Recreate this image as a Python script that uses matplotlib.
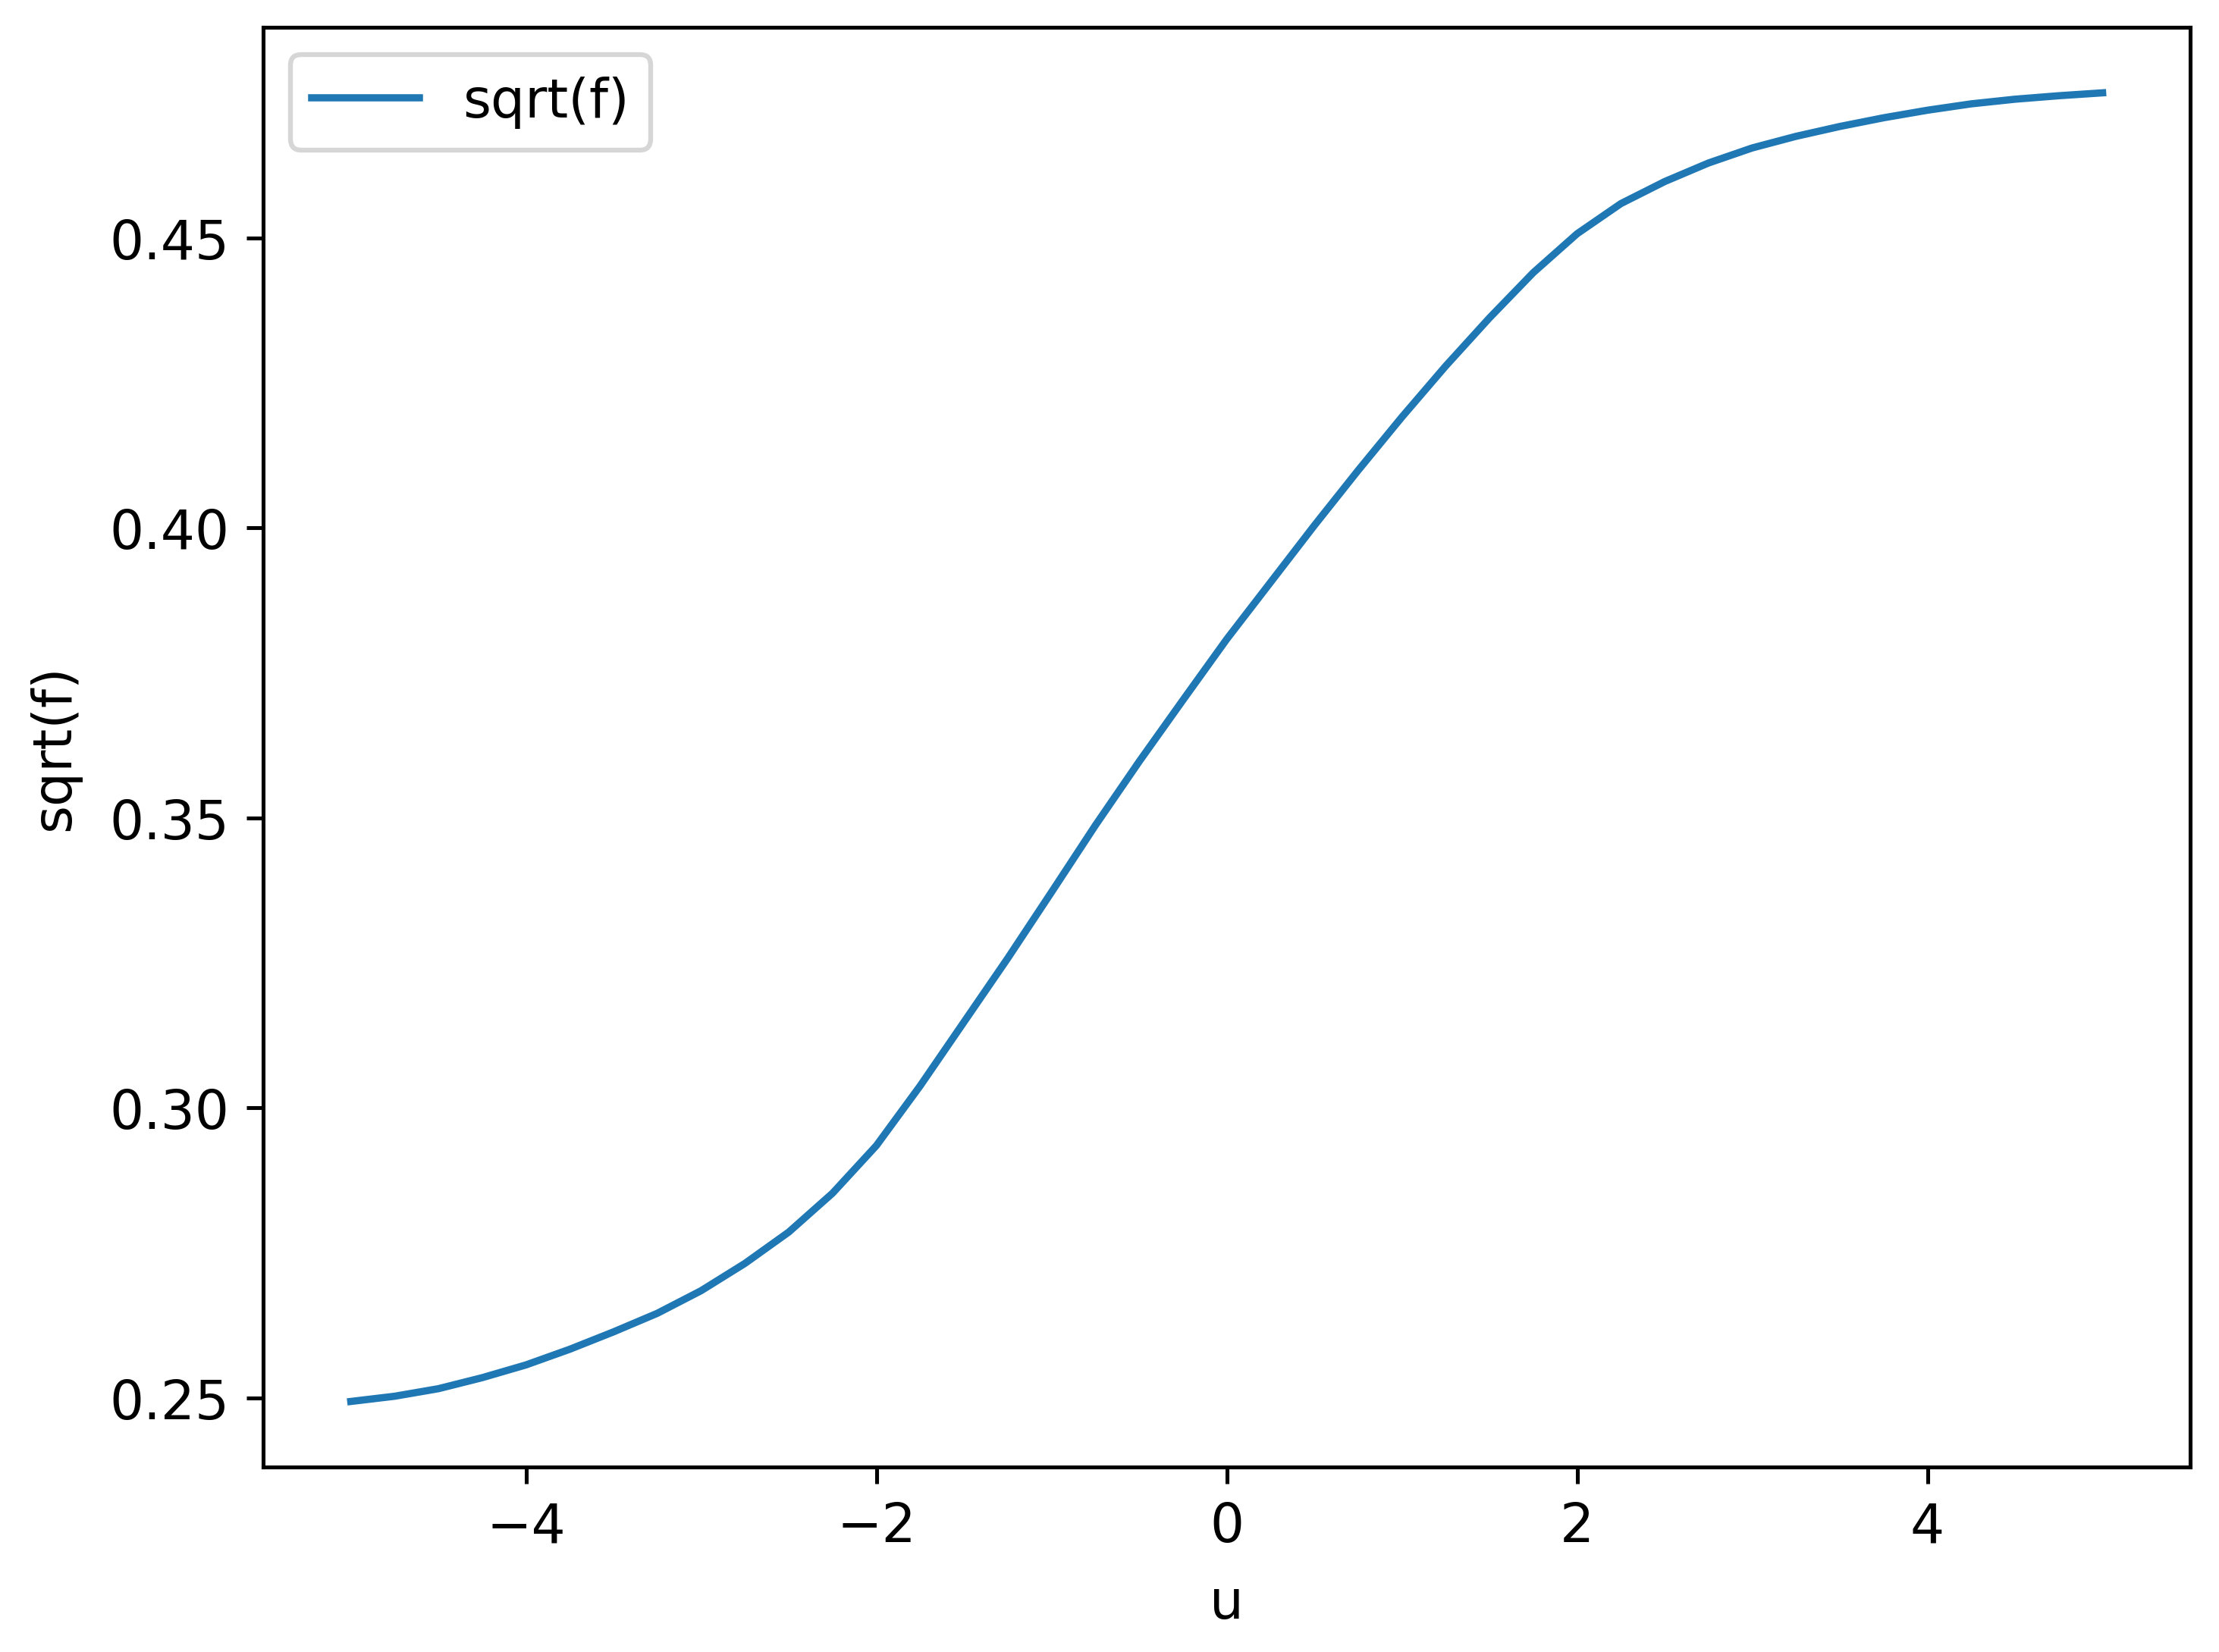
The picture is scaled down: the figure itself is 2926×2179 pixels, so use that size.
import numpy as np
import matplotlib
matplotlib.use("Agg")
import matplotlib.pyplot as plt

# values (step 0.25 in u)
u = [-5.0, -4.75, -4.5, -4.25, -4.0, -3.75, -3.5, -3.25, -3.0, -2.75,
     -2.5, -2.25, -2.0, -1.75, -1.5, -1.25, -1.0, -0.75, -0.5, -0.25,
     0.0, 0.25, 0.5, 0.75, 1.0, 1.25, 1.5, 1.75, 2.0, 2.25,
     2.5, 2.75, 3.0, 3.25, 3.5, 3.75, 4.0, 4.25, 4.5, 4.75, 5.0]
sqrt_f = [0.2494, 0.2503, 0.2516, 0.2535, 0.2557, 0.2584, 0.2614, 0.2646,
          0.2685, 0.2732, 0.2786, 0.2853, 0.2935, 0.3038, 0.3148, 0.3258,
          0.3372, 0.3487, 0.3597, 0.3703, 0.3808, 0.3906, 0.4004, 0.4099,
          0.4191, 0.4279, 0.4362, 0.4440, 0.4507, 0.4559, 0.4597, 0.4629,
          0.4655, 0.4675, 0.4692, 0.4707, 0.4720, 0.4731, 0.4739, 0.4745,
          0.4750]

plt.rcParams["font.size"] = 11.2

fig, ax = plt.subplots(figsize=(6.4, 4.768), dpi=457.2)
fig.subplots_adjust(left=0.1186, right=0.987, bottom=0.112, top=0.983)

ax.plot(u, sqrt_f, label="sqrt(f)")
ax.set_xlabel("u", labelpad=5)
ax.set_ylabel("sqrt(f)", labelpad=6)
ax.legend(loc="upper left")

fig.savefig("out.png")
plt.close(fig)
